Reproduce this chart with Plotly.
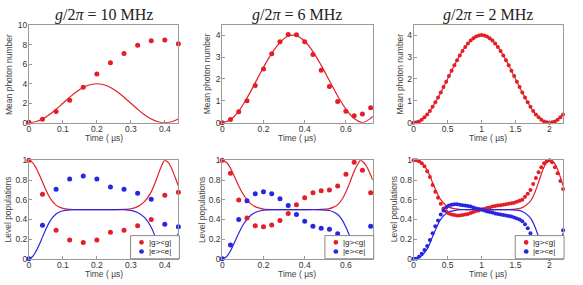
import plotly.graph_objects as go
from plotly.subplots import make_subplots

RED = "rgb(228,30,38)"
BLUE = "rgb(38,38,228)"

# ---------- Panel 1 : g/2pi = 10 MHz, mean photon number ----------
p1_line_t = [0, 0.02, 0.04, 0.06, 0.08, 0.1, 0.12, 0.14, 0.16, 0.18, 0.2, 0.22, 0.24,
             0.26, 0.28, 0.3, 0.32, 0.34, 0.36, 0.38, 0.4, 0.42, 0.44]
p1_line_n = [0, 0.1, 0.38, 0.82, 1.38, 2.0, 2.62, 3.18, 3.62, 3.9, 4.0, 3.9, 3.62,
             3.18, 2.62, 2.0, 1.38, 0.82, 0.38, 0.1, 0, 0.1, 0.38]
p1_dot_t = [0, 0.04, 0.08, 0.12, 0.16, 0.2, 0.24, 0.28, 0.32, 0.36, 0.4, 0.44]
p1_dot_n = [0.05, 0.35, 1.15, 2.3, 3.65, 5.0, 6.15, 7.1, 7.95, 8.4, 8.5, 8.1]

# ---------- Panel 2 : g/2pi = 6 MHz ----------
p2_line_t = [0, 0.04, 0.08, 0.12, 0.16, 0.2, 0.24, 0.28, 0.32, 0.36, 0.4, 0.44, 0.48,
             0.52, 0.56, 0.6, 0.64, 0.68, 0.72, 0.73]
p2_line_n = [0, 0.14, 0.53, 1.13, 1.82, 2.53, 3.17, 3.66, 3.96, 3.98, 3.72, 3.25, 2.62,
             1.92, 1.22, 0.62, 0.19, 0.01, 0.2, 0.3]
p2_dot_t = [0, 0.04, 0.08, 0.12, 0.16, 0.2, 0.24, 0.28, 0.32, 0.36, 0.4, 0.44, 0.48,
            0.52, 0.56, 0.6, 0.64, 0.68, 0.72]
p2_dot_n = [0, 0.15, 0.5, 1.0, 1.7, 2.45, 3.15, 3.7, 4.03, 4.02, 3.7, 3.12, 2.4,
            1.65, 0.97, 0.52, 0.32, 0.4, 0.68]

# ---------- Panel 3 : g/2pi = 2 MHz ----------
p3_line_t = [0, 0.1, 0.2, 0.3, 0.4, 0.5, 0.6, 0.7, 0.8, 0.9, 1.0, 1.1, 1.2, 1.3, 1.4,
             1.5, 1.6, 1.7, 1.8, 1.9, 2.0, 2.1, 2.2]
p3_line_n = [0, 0.1, 0.38, 0.82, 1.38, 2.0, 2.62, 3.18, 3.62, 3.9, 4.0, 3.9, 3.62, 3.18,
             2.62, 2.0, 1.38, 0.82, 0.38, 0.1, 0, 0.1, 0.38]
p3_dot_t = [0, 0.04, 0.08, 0.12, 0.16, 0.2, 0.24, 0.28, 0.32, 0.36, 0.4, 0.44, 0.48, 0.52,
            0.56, 0.6, 0.64, 0.68, 0.72, 0.76, 0.8, 0.84, 0.88, 0.92, 0.96, 1.0, 1.04,
            1.08, 1.12, 1.16, 1.2, 1.24, 1.28, 1.32, 1.36, 1.4, 1.44, 1.48, 1.52, 1.56,
            1.6, 1.64, 1.68, 1.72, 1.76, 1.8, 1.84, 1.88, 1.92, 1.96, 2.0, 2.04, 2.08,
            2.12, 2.16, 2.2]
p3_dot_n = [0, 0.02, 0.06, 0.14, 0.25, 0.38, 0.54, 0.73, 0.93, 1.15, 1.38, 1.63, 1.87,
            2.13, 2.37, 2.62, 2.85, 3.07, 3.27, 3.46, 3.62, 3.75, 3.86, 3.94, 3.98, 4.0,
            3.98, 3.94, 3.86, 3.75, 3.62, 3.46, 3.27, 3.07, 2.85, 2.62, 2.37, 2.13, 1.87,
            1.63, 1.38, 1.15, 0.93, 0.73, 0.54, 0.38, 0.25, 0.14, 0.06, 0.02, 0, 0.02,
            0.06, 0.14, 0.25, 0.38]

# ---------- Panel 4 : level populations, 10 MHz ----------
p4_line_t = [0, 0.01, 0.02, 0.03, 0.04, 0.05, 0.06, 0.07, 0.08, 0.09, 0.1, 0.12, 0.15,
             0.2, 0.25, 0.28, 0.3, 0.32, 0.34, 0.36, 0.37, 0.38, 0.39, 0.4, 0.41, 0.42,
             0.43, 0.44]
p4_line_g = [1.0, 0.98, 0.93, 0.86, 0.78, 0.7, 0.63, 0.58, 0.545, 0.525, 0.512, 0.503,
             0.5, 0.5, 0.5, 0.502, 0.508, 0.53, 0.58, 0.68, 0.76, 0.85, 0.94, 1.0, 0.98,
             0.92, 0.83, 0.74]
p4_line_e = [0.0, 0.02, 0.07, 0.14, 0.22, 0.3, 0.37, 0.42, 0.455, 0.475, 0.488, 0.497,
             0.5, 0.5, 0.5, 0.498, 0.492, 0.47, 0.42, 0.32, 0.24, 0.15, 0.06, 0.0, 0.02,
             0.08, 0.17, 0.26]
p4_dot_t = [0, 0.04, 0.08, 0.12, 0.16, 0.2, 0.24, 0.28, 0.32, 0.36, 0.4, 0.44]
p4_dot_g = [1.0, 0.655, 0.29, 0.19, 0.165, 0.19, 0.27, 0.29, 0.335, 0.4, 0.645, 0.677]
p4_dot_e = [0.0, 0.34, 0.707, 0.81, 0.84, 0.81, 0.73, 0.707, 0.665, 0.606, 0.35, 0.326]

# ---------- Panel 5 : level populations, 6 MHz ----------
p5_line_t = [0, 0.02, 0.04, 0.06, 0.08, 0.1, 0.12, 0.14, 0.16, 0.18, 0.2, 0.25, 0.3, 0.4,
             0.46, 0.5, 0.52, 0.54, 0.56, 0.58, 0.6, 0.62, 0.64, 0.66, 0.67, 0.68, 0.7,
             0.72, 0.73]
p5_line_g = [1.0, 0.98, 0.92, 0.83, 0.74, 0.66, 0.6, 0.555, 0.53, 0.515, 0.505, 0.5, 0.5,
             0.5, 0.5, 0.505, 0.51, 0.525, 0.55, 0.6, 0.68, 0.78, 0.89, 0.97, 1.0, 0.99,
             0.94, 0.85, 0.8]
p5_line_e = [0.0, 0.02, 0.08, 0.17, 0.26, 0.34, 0.4, 0.445, 0.47, 0.485, 0.495, 0.5, 0.5,
             0.5, 0.5, 0.495, 0.49, 0.475, 0.45, 0.4, 0.32, 0.22, 0.11, 0.03, 0.0, 0.01,
             0.06, 0.15, 0.2]
p5_dot_t = [0, 0.04, 0.08, 0.12, 0.16, 0.2, 0.24, 0.28, 0.32, 0.36, 0.4, 0.44, 0.48, 0.52,
            0.56, 0.6, 0.64, 0.68, 0.72]
p5_dot_g = [1.0, 0.87, 0.596, 0.414, 0.335, 0.326, 0.342, 0.39, 0.46, 0.55, 0.62, 0.67,
            0.69, 0.7, 0.74, 0.86, 0.98, 0.9, 0.67]
p5_dot_e = [0.0, 0.14, 0.4, 0.59, 0.66, 0.68, 0.66, 0.61, 0.54, 0.45, 0.38, 0.33, 0.31,
            0.3, 0.255, 0.14, 0.02, 0.1, 0.33]

# ---------- Panel 6 : level populations, 2 MHz ----------
p6_line_t = [0, 0.1, 0.2, 0.3, 0.4, 0.5, 0.6, 0.7, 0.8, 0.9, 1.0, 1.1, 1.2, 1.3, 1.4, 1.5,
             1.6, 1.7, 1.75, 1.8, 1.85, 1.9, 1.95, 2.0, 2.05, 2.1, 2.15, 2.2]
p6_line_g = [1.0, 0.98, 0.9, 0.74, 0.6, 0.53, 0.51, 0.5, 0.5, 0.5, 0.5, 0.5, 0.5, 0.5,
             0.5, 0.505, 0.52, 0.57, 0.62, 0.7, 0.8, 0.9, 0.97, 1.0, 0.99, 0.94, 0.85, 0.74]
p6_line_e = [0.0, 0.02, 0.1, 0.26, 0.4, 0.47, 0.49, 0.5, 0.5, 0.5, 0.5, 0.5, 0.5, 0.5,
             0.5, 0.495, 0.48, 0.43, 0.38, 0.3, 0.2, 0.1, 0.03, 0.0, 0.01, 0.06, 0.15, 0.26]
p6_dot_t = p3_dot_t
p6_dot_g = [1.0, 1.0, 0.99, 0.97, 0.94, 0.89, 0.83, 0.75, 0.68, 0.62, 0.56, 0.51, 0.48,
            0.46, 0.45, 0.445, 0.44, 0.44, 0.445, 0.45, 0.455, 0.465, 0.475, 0.485, 0.49,
            0.5, 0.505, 0.515, 0.52, 0.53, 0.535, 0.54, 0.545, 0.55, 0.555, 0.56, 0.565,
            0.57, 0.58, 0.59, 0.6, 0.63, 0.66, 0.7, 0.76, 0.82, 0.88, 0.93, 0.97, 0.99,
            1.0, 0.98, 0.93, 0.87, 0.79, 0.71]
p6_dot_e = [0.0, 0.0, 0.02, 0.05, 0.09, 0.13, 0.19, 0.26, 0.33, 0.39, 0.45, 0.49, 0.52,
            0.54, 0.55, 0.555, 0.555, 0.55, 0.545, 0.54, 0.535, 0.53, 0.52, 0.51, 0.505,
            0.5, 0.49, 0.48, 0.475, 0.47, 0.46, 0.455, 0.45, 0.445, 0.44, 0.435, 0.43,
            0.42, 0.41, 0.4, 0.38, 0.35, 0.31, 0.26, 0.2, 0.14, 0.09, 0.05, 0.02, 0.01,
            0.0, 0.02, 0.07, 0.13, 0.21, 0.29]

titles = ["<i>g</i>/2<i>π</i> = 10 MHz", "<i>g</i>/2<i>π</i> = 6 MHz", "<i>g</i>/2<i>π</i> = 2 MHz"]
x_ranges = [[0, 0.44], [0, 0.73], [0, 2.2]]
x_ticks = [[0, 0.1, 0.2, 0.3, 0.4], [0, 0.2, 0.4, 0.6], [0, 0.5, 1, 1.5, 2]]
x_ticktext = [["0", "0.1", "0.2", "0.3", "0.4"], ["0", "0.2", "0.4", "0.6"],
              ["0", "0.5", "1", "1.5", "2"]]
top_y_ranges = [[0, 10], [0, 4.45], [0, 4.45]]
top_y_ticks = [[0, 2, 4, 6, 8, 10], [0, 1, 2, 3, 4], [0, 1, 2, 3, 4]]
bot_y_ticks = [0, 0.2, 0.4, 0.6, 0.8, 1]
bot_y_ticktext = ["0", "0.2", "0.4", "0.6", "0.8", "1"]
legend_labels = ["|g&gt;&lt;g|", "|e&gt;&lt;e|"]

W, H = 583, 285
col_px = [(27, 177), (221, 372), (413, 563)]
row_px = [(21, 122), (161, 263)]

fig = make_subplots(rows=2, cols=3)

MS = 5
top_data = [(p1_line_t, p1_line_n, p1_dot_t, p1_dot_n, MS),
            (p2_line_t, p2_line_n, p2_dot_t, p2_dot_n, MS),
            (p3_line_t, p3_line_n, p3_dot_t, p3_dot_n, 4)]
for c, (lt, ln, dt, dn, ms) in enumerate(top_data, start=1):
    fig.add_trace(go.Scatter(x=lt, y=ln, mode="lines", line=dict(color=RED, width=1.2, shape="spline"),
                             showlegend=False), row=1, col=c)
    fig.add_trace(go.Scatter(x=dt, y=dn, mode="markers", marker=dict(color=RED, size=ms),
                             showlegend=False, cliponaxis=False), row=1, col=c)

bot_data = [(p4_line_t, p4_line_g, p4_line_e, p4_dot_t, p4_dot_g, p4_dot_e, MS),
            (p5_line_t, p5_line_g, p5_line_e, p5_dot_t, p5_dot_g, p5_dot_e, MS),
            (p6_line_t, p6_line_g, p6_line_e, p6_dot_t, p6_dot_g, p6_dot_e, 4)]
for c, (lt, lg, le, dt, dg, de, ms) in enumerate(bot_data, start=1):
    fig.add_trace(go.Scatter(x=lt, y=lg, mode="lines", line=dict(color=RED, width=1.2, shape="spline"),
                             showlegend=False), row=2, col=c)
    fig.add_trace(go.Scatter(x=lt, y=le, mode="lines", line=dict(color=BLUE, width=1.2, shape="spline"),
                             showlegend=False), row=2, col=c)
    fig.add_trace(go.Scatter(x=dt, y=dg, mode="markers", marker=dict(color=RED, size=ms),
                             name=legend_labels[0], showlegend=False, cliponaxis=False),
                  row=2, col=c)
    fig.add_trace(go.Scatter(x=dt, y=de, mode="markers", marker=dict(color=BLUE, size=ms),
                             name=legend_labels[1], showlegend=False, cliponaxis=False),
                  row=2, col=c)

tickfont = dict(family="Liberation Sans, Arial, sans-serif", size=8.5, color="#333")
axis_common = dict(showgrid=False, zeroline=False, showline=True, mirror=True,
                   linecolor="#9a9a9a", linewidth=1, ticks="inside", ticklen=3,
                   tickcolor="#9a9a9a", tickfont=tickfont)

for r in range(2):
    for c in range(3):
        idx = r * 3 + c + 1
        xa = "xaxis" if idx == 1 else f"xaxis{idx}"
        ya = "yaxis" if idx == 1 else f"yaxis{idx}"
        x0, x1 = col_px[c]
        y0, y1 = row_px[r]
        fig.layout[xa].update(domain=[x0 / W, x1 / W], range=x_ranges[c],
                              tickvals=x_ticks[c], ticktext=x_ticktext[c],
                              ticklabelstandoff=-2, **axis_common)
        if r == 0:
            fig.layout[ya].update(domain=[1 - y1 / H, 1 - y0 / H], range=top_y_ranges[c],
                                  tickvals=top_y_ticks[c], ticklabelstandoff=-1, **axis_common)
        else:
            fig.layout[ya].update(domain=[1 - y1 / H, 1 - y0 / H], range=[0, 1],
                                  tickvals=bot_y_ticks, ticktext=bot_y_ticktext,
                                  ticklabelstandoff=-1, **axis_common)

annotations = []
shapes = []
labfont = dict(family="Liberation Sans, Arial, sans-serif", size=8.5, color="#444")
ytitle_x = [[7, 206, 399], [6, 200, 393]]
for c in range(3):
    x0, x1 = col_px[c]
    cx = (x0 + x1) / 2 / W
    annotations.append(dict(text=titles[c], x=cx, y=1 - 10 / H, xref="paper", yref="paper",
                            showarrow=False, xanchor="center", yanchor="middle",
                            font=dict(family="Liberation Serif, DejaVu Serif, serif", size=16, color="#222")))
    for r in range(2):
        y0, y1 = row_px[r]
        annotations.append(dict(text="Time ( µs)", x=cx, y=1 - (y1 + 15.5) / H, xref="paper",
                                yref="paper", showarrow=False, xanchor="center", yanchor="middle",
                                font=labfont))
        annotations.append(dict(text="Mean photon number" if r == 0 else "Level populations",
                                x=ytitle_x[r][c] / W, y=1 - (y0 + y1) / 2 / H, xref="paper",
                                yref="paper", showarrow=False, textangle=-90, xanchor="center",
                                yanchor="middle", font=labfont))

    # hand-drawn compact legend in lower-right corner of each bottom panel
    by1 = row_px[1][1]
    lx0, lx1 = x1 - 48, x1 + 1
    ly0, ly1 = by1 - 24, by1
    shapes.append(dict(type="rect", xref="paper", yref="paper",
                       x0=lx0 / W, x1=lx1 / W, y0=1 - ly1 / H, y1=1 - ly0 / H,
                       line=dict(color="#888", width=1), fillcolor="white", layer="above"))
    for k, (col, lab) in enumerate(zip([RED, BLUE], legend_labels)):
        yc = ly0 + 7 + k * 9.5
        dx = x1 - 37
        rr = 2.4
        shapes.append(dict(type="circle", xref="paper", yref="paper",
                           x0=(dx - rr) / W, x1=(dx + rr) / W,
                           y0=1 - (yc + rr) / H, y1=1 - (yc - rr) / H,
                           fillcolor=col, line=dict(width=0), layer="above"))
        annotations.append(dict(text=lab, x=(x1 - 32) / W, y=1 - yc / H, xref="paper",
                                yref="paper", showarrow=False, xanchor="left", yanchor="middle",
                                font=dict(family="Liberation Sans, Arial, sans-serif", size=8,
                                          color="#222")))

fig.update_layout(width=W, height=H, margin=dict(l=0, r=0, t=0, b=0),
                  paper_bgcolor="white", plot_bgcolor="white", showlegend=False,
                  annotations=annotations, shapes=shapes)

fig.write_html("out.html")
